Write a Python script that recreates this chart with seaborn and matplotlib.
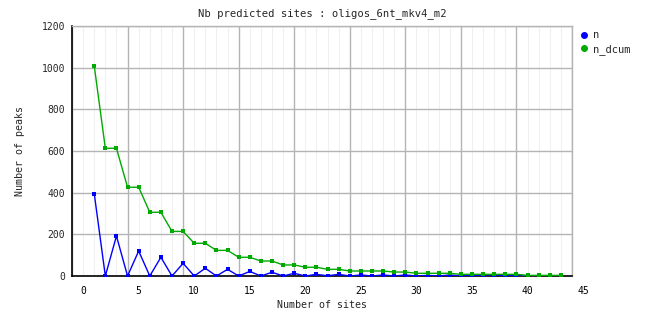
import numpy as np
import pandas as pd
import matplotlib
matplotlib.use("Agg")
import matplotlib.pyplot as plt
from matplotlib.transforms import ScaledTranslation
from matplotlib.lines import Line2D
import seaborn as sns

sites = list(range(1, 44))
n = [396, 0, 192, 0, 120, 0, 90, 0, 61, 0, 37, 0, 32, 0, 22, 0, 18, 0, 13, 0,
     8, 1, 8, 0, 5, 0, 5, 0, 5, 0, 3, 0, 5, 0, 4, 0, 0, 2, 4, 0, 2, 0, 2]
n_dcum = [1009, 613, 613, 426, 426, 306, 306, 214, 214, 157, 157, 123, 123, 90, 90,
          72, 72, 53, 53, 42, 42, 32, 32, 24, 24, 24, 24, 19, 19, 13, 13, 13, 13,
          8, 8, 8, 8, 8, 8, 3, 3, 3, 3]
series_names = ["n", "n_dcum"]
x_tick_labels = [str(v) for v in range(0, 50, 5)]
y_ticks = [0, 200, 400, 600, 800, 1000, 1200]

df = pd.DataFrame({
    "sites": sites * 2,
    "value": n + n_dcum,
    "series": [series_names[0]] * len(n) + [series_names[1]] * len(n_dcum),
})

sns.set_style("white")
plt.rcParams["font.family"] = ["DejaVu Sans Mono"]

fig = plt.figure(figsize=(6.62, 3.28), dpi=100)
ax = fig.add_axes([72 / 662, 52 / 328, 500 / 662, 250 / 328])

palette = {"n": "#0000ff", "n_dcum": "#00aa00"}
sns.lineplot(data=df, x="sites", y="value", hue="series", palette=palette,
             marker="s", markersize=3.0, markeredgewidth=0, linewidth=1.0,
             ax=ax, legend=False, zorder=3)

ax.set_xlim(-1, 44)
ax.set_ylim(0, 1200)
major_x = np.arange(-1, 45, 5)
ax.set_xticks(major_x)
ax.set_xticklabels(x_tick_labels)
ax.set_xticks(np.arange(-1, 45, 1), minor=True)
ax.set_yticks(y_ticks)
ax.set_yticklabels([str(v) for v in y_ticks])

ax.grid(True, which="major", color="#b4b4b4", linewidth=1.0, zorder=0)
ax.grid(True, which="minor", axis="x", color="#f0f0f0", linewidth=0.8, zorder=0)
ax.set_axisbelow(True)

ax.tick_params(axis="x", which="both", length=0, labelsize=7, pad=7, colors="black")
ax.tick_params(axis="y", which="major", length=3, color="#888888", labelsize=7, pad=2)
for lbl in ax.get_xticklabels():
    lbl.set_transform(lbl.get_transform() + ScaledTranslation(11 / 100, 0, fig.dpi_scale_trans))

for side in ["top", "right"]:
    ax.spines[side].set_color("#b4b4b4")
    ax.spines[side].set_linewidth(1.0)
for side in ["left", "bottom"]:
    ax.spines[side].set_color("black")
    ax.spines[side].set_linewidth(1.2)

ax.set_title("Nb predicted sites : oligos_6nt_mkv4_m2", fontsize=7.6, pad=7)
ax.set_xlabel("Number of sites", fontsize=7.2, labelpad=3)
ax.set_ylabel("Number of peaks", fontsize=7.2, labelpad=12)

handles = [Line2D([], [], color=palette[s], marker="o", linestyle="none", markersize=4.0)
           for s in series_names]
leg = fig.legend(handles, series_names, loc="upper left",
                 bbox_to_anchor=(574 / 662, 1 - 26 / 328), frameon=False,
                 fontsize=7.5, handletextpad=0.2, labelspacing=0.35,
                 handlelength=1.2, borderaxespad=0)

fig.savefig("out.png", dpi=100)
